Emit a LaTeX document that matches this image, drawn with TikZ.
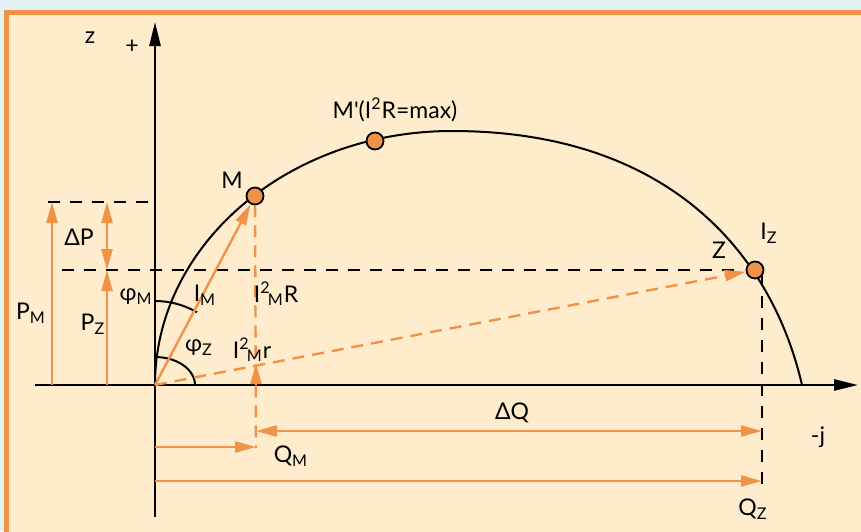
\documentclass[tikz,border=0pt]{standalone}
\usepackage{fontspec}
\setmainfont{Lato}
\usetikzlibrary{arrows.meta,positioning}

\definecolor{stripbg}{RGB}{228,241,242}
\definecolor{paper}{RGB}{254,236,204}
\definecolor{ora}{RGB}{240,146,72}

\newcommand{\lo}[1]{\textsubscript{#1}}
\newcommand{\sqsub}[1]{\textsuperscript{2}\kern-0.12em\textsubscript{#1}}

\begin{document}
\begin{tikzpicture}[x=0.5pt, y=-0.5pt,
    font=\fontsize{11.5}{13}\selectfont,
    axis/.style={line width=1.3pt, -{Triangle[length=12pt,width=5.5pt]}},
    curve/.style={line width=1pt},
    oline/.style={draw=ora, line width=1.2pt},
    oarrow/.style={oline, -{Triangle[length=10.5pt,width=5.5pt]}},
    obiarrow/.style={oline, {Triangle[length=10.5pt,width=5.5pt]}-{Triangle[length=10.5pt,width=5.5pt]}},
    odash/.style={oline, dash pattern=on 6pt off 4pt},
    kdash/.style={line width=1.2pt, dash pattern=on 6pt off 5pt},
    dot/.style={circle, draw, line width=0.9pt, fill=ora, inner sep=0pt, minimum size=8.5pt},
    lbl/.style={inner sep=0pt}
]
% frame
\useasboundingbox (0,0) rectangle (861,531);
\clip (0,0) rectangle (861,531);
\fill[stripbg] (0,0) rectangle (861,531);
\draw[ora, line width=2.5pt, fill=paper] (6.5,12.5) rectangle (900,570);

% axes
\coordinate (O) at (155,385);
\coordinate (zbot) at (155,517);
\coordinate (ztop) at (155,22);
\coordinate (jleft) at (35,385);
\coordinate (jright) at (858,385);
\draw[axis] (zbot) -- (ztop);
\draw[axis] (jleft) -- (jright);
\node[lbl] (zlab) at (90,38) {z};
\node[lbl] (plus) at (132,47) {+};
\node[lbl] (jlab) at (818,437) {-j};

% circle diagram
\coordinate (top) at (452,131);
\coordinate (jend) at (802,385);
\draw[curve] (O) arc[start angle=180, end angle=270, x radius=297, y radius=254]
    .. controls (670,131) and (772,255) .. (jend);

% helper points
\coordinate (pmbot) at (52,385);
\coordinate (pmtop) at (52,202);
\coordinate (pzbot) at (107,385);
\coordinate (pzmid) at (107,270);
\coordinate (pztop) at (107,202);
\coordinate (mlevel) at (48,202);
\coordinate (mlevelend) at (155,202);
\coordinate (zlevel) at (62,270);
\coordinate (zlevelend) at (740,270);
\coordinate (zfoot) at (762,274);
\coordinate (zend) at (762,490);
\coordinate (mfoot) at (256,385);
\coordinate (mr) at (256,363);
\coordinate (mend) at (256,448);
\coordinate (qmstart) at (155,447);
\coordinate (qmend) at (256,447);
\coordinate (dqstart) at (256,431);
\coordinate (dqend) at (762,431);
\coordinate (qzstart) at (155,481);
\coordinate (qzend) at (762,481);

% black dashed levels
\draw[kdash] (mlevel) -- (mlevelend);
\draw[kdash] (zlevel) -- (zlevelend);
\draw[kdash] (zfoot) -- (zend);

% angles
\draw[curve] (155,301) arc[start angle=270, end angle=300, radius=84];
\draw[curve] (155,357) arc[start angle=270, end angle=360, x radius=40, y radius=28];

% phasors
\node[dot] (M) at (255,196) {};
\node[dot] (Mp) at (375,141) {};
\node[dot] (Z) at (755,270) {};
\draw[odash] (M) -- (mend);
\draw[oarrow] (O) -- (M);
\draw[oarrow, dash pattern=on 6pt off 4pt] (O) -- (Z);
\draw[oarrow] (mfoot) -- (mr);

% powers
\draw[oarrow] (pmbot) -- (pmtop);
\draw[oarrow] (pzbot) -- (pzmid);
\draw[obiarrow] (pzmid) -- (pztop);

% reactive parts
\draw[oarrow] (qmstart) -- (qmend);
\draw[obiarrow] (dqstart) -- (dqend);
\draw[oarrow] (qzstart) -- (qzend);

% labels
\node[lbl] (mlab) at (232,180) {M};
\node[lbl] (mplab) at (395,110) {M\textquotesingle(I\textsuperscript{2}R=max)};
\node[lbl] (zptlab) at (719,250) {Z};
\node[lbl] (izlab) at (769,233) {I\lo{Z}};
\node[lbl] (dplab) at (79,237) {ΔP};
\node[lbl] (pmlab) at (31,313) {P\lo{M}};
\node[lbl] (pzlab) at (93,324) {P\lo{Z}};
\node[lbl] (phimlab) at (136,297) {φ\lo{M}};
\node[lbl] (phizlab) at (199,348) {φ\lo{Z}};
\node[lbl] (imlab) at (205,295) {I\lo{M}};
\node[lbl] (rlab) at (276,294) {I\sqsub{M}R};
\node[lbl] (rsmall) at (252,350) {I\sqsub{M}r};
\node[lbl] (dqlab) at (512,413) {ΔQ};
\node[lbl] (qmlab) at (291,456) {Q\lo{M}};
\node[lbl] (qzlab) at (753,509) {Q\lo{Z}};
\end{tikzpicture}
\end{document}
